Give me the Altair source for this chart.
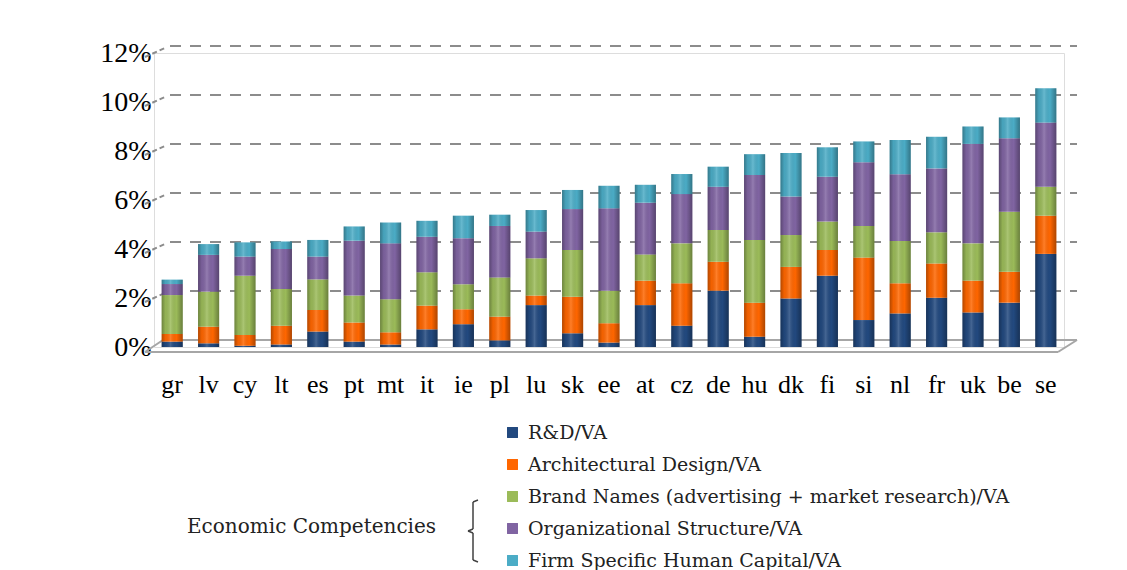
import altair as alt
import pandas as pd

countries = ["gr", "lv", "cy", "lt", "es", "pt", "mt", "it", "ie", "pl", "lu", "sk", "ee",
             "at", "cz", "de", "hu", "dk", "fi", "si", "nl", "fr", "uk", "be", "se"]

series = ["R&D/VA", "Architectural Design/VA",
          "Brand Names (advertising + market research)/VA",
          "Organizational Structure/VA", "Firm Specific Human Capital/VA"]

rd = [0.22, 0.15, 0.05, 0.10, 0.63, 0.22, 0.10, 0.72, 0.93, 0.27, 1.71, 0.56, 0.18,
      1.71, 0.87, 2.30, 0.42, 1.98, 2.91, 1.10, 1.37, 2.01, 1.41, 1.81, 3.80]
arch = [0.31, 0.68, 0.44, 0.77, 0.88, 0.78, 0.50, 0.97, 0.61, 0.97, 0.39, 1.49, 0.79,
        1.00, 1.73, 1.18, 1.39, 1.29, 1.05, 2.55, 1.23, 1.40, 1.30, 1.26, 1.56]
brand = [1.59, 1.43, 2.42, 1.50, 1.25, 1.10, 1.35, 1.36, 1.02, 1.60, 1.52, 1.91, 1.33,
         1.07, 1.63, 1.30, 2.56, 1.30, 1.16, 1.29, 1.73, 1.27, 1.52, 2.45, 1.18]
org = [0.45, 1.50, 0.78, 1.63, 0.93, 2.24, 2.28, 1.45, 1.88, 2.10, 1.09, 1.67, 3.36,
       2.11, 2.01, 1.76, 2.65, 1.57, 1.83, 2.60, 2.72, 2.61, 4.06, 3.00, 2.62]
firm = [0.18, 0.44, 0.58, 0.31, 0.68, 0.58, 0.85, 0.65, 0.92, 0.46, 0.88, 0.78, 0.92,
        0.73, 0.82, 0.82, 0.85, 1.78, 1.20, 0.85, 1.40, 1.29, 0.71, 0.85, 1.40]

y_ticks = [0, 2, 4, 6, 8, 10, 12]
colors = ["#22497F", "#FF6600", "#9BBB59", "#8064A2", "#4BACC6"]

rows = []
for si, (name, vals) in enumerate(zip(series, [rd, arch, brand, org, firm])):
    for c, v in zip(countries, vals):
        rows.append({"country": c, "series": name, "value": v, "order": si})
df = pd.DataFrame(rows)

W, H = 910, 294
SERIF = "Liberation Serif"
LSERIF = "DejaVu Serif"

x_enc = alt.X("country:N", sort=countries,
              scale=alt.Scale(paddingInner=0.42, paddingOuter=0.21),
              axis=alt.Axis(title=None, labelAngle=0, domain=False, ticks=False,
                            labelFont=SERIF, labelFontSize=26, labelColor="#000000",
                            labelPadding=24, labelBaseline="top"))
y_scale = alt.Scale(domain=[0, 12], nice=False)

bars = alt.Chart(df).mark_bar().encode(
    x=x_enc,
    y=alt.Y("value:Q", stack="zero", scale=y_scale,
            axis=alt.Axis(title=None, values=y_ticks, labelExpr="datum.value + '%'",
                          domain=False, ticks=False, grid=False,
                          labelFont=SERIF, labelFontSize=28, labelColor="#000000",
                          labelPadding=3)),
    color=alt.Color("series:N", sort=series,
                    scale=alt.Scale(domain=series, range=colors),
                    legend=alt.Legend(title=None, orient="none", legendX=349, legendY=370,
                                      labelFont=LSERIF, labelFontSize=19, labelColor="#222222",
                                      symbolType="square", symbolSize=120, symbolStrokeWidth=0,
                                      rowPadding=12, labelOffset=6, padding=0,
                                      labelLimit=700)),
    order=alt.Order("order:Q"),
)

shade = alt.LinearGradient(
    gradient="linear", x1=0, x2=1, y1=0, y2=0,
    stops=[alt.GradientStop(color="rgba(0,0,0,0.30)", offset=0),
           alt.GradientStop(color="rgba(0,0,0,0.05)", offset=0.18),
           alt.GradientStop(color="rgba(255,255,255,0.16)", offset=0.42),
           alt.GradientStop(color="rgba(0,0,0,0.0)", offset=0.7),
           alt.GradientStop(color="rgba(0,0,0,0.32)", offset=1)])

overlay = alt.Chart(df).mark_bar(color=shade).encode(
    x=alt.X("country:N", sort=countries),
    y=alt.Y("sum(value):Q", scale=y_scale),
)

grid_df = pd.DataFrame({"v": [t for t in y_ticks if t > 0]})
gridlines = alt.Chart(grid_df).mark_rule(color="#8C8C8C", strokeWidth=2,
                                         strokeDash=[11, 9], yOffset=-7).encode(
    y=alt.Y("v:Q", scale=y_scale), x=alt.value(16), x2=alt.value(923))
grid_diag = alt.Chart(grid_df).mark_rule(color="#8C8C8C", strokeWidth=2,
                                         strokeDash=[5, 3], yOffset=4, y2Offset=-5).encode(
    y=alt.Y("v:Q", scale=y_scale), y2=alt.Y2("v"), x=alt.value(-9), x2=alt.value(11))

one = pd.DataFrame({"a": [0]})


def seg(x1, y1, x2, y2, color, width):
    return alt.Chart(one).mark_rule(color=color, strokeWidth=width).encode(
        x=alt.value(x1), y=alt.value(y1), x2=alt.value(x2), y2=alt.value(y2))


floor_col = "#A6A6A6"
floor = [seg(9, 287, 923, 287, floor_col, 2), seg(-9, 299, 904, 299, floor_col, 2),
         seg(-9, 299, 9, 287, floor_col, 2), seg(904, 299, 923, 287, floor_col, 2)]

bc = "#404040"
bracket = [seg(324, 447, 319, 449, bc, 1.5), seg(319, 449, 319, 476, bc, 1.5),
           seg(319, 476, 314, 478, bc, 1.5), seg(314, 478, 319, 480, bc, 1.5),
           seg(319, 480, 319, 507, bc, 1.5), seg(319, 507, 324, 509, bc, 1.5)]

econ = alt.Chart(one).mark_text(text="Economic Competencies", font=LSERIF, fontSize=20,
                                align="left", baseline="middle", color="#222222").encode(
    x=alt.value(33), y=alt.value(474))

chart = alt.layer(gridlines, grid_diag, *floor, bars, overlay, *bracket, econ).properties(
    width=W, height=H,
    autosize=alt.AutoSizeParams(type="none"),
    padding={"left": 146, "top": 45, "right": 40, "bottom": 223},
).configure_view(stroke=None).configure(background="#ffffff")

chart.save("out.html", embed_options={"renderer": "svg", "actions": False})
